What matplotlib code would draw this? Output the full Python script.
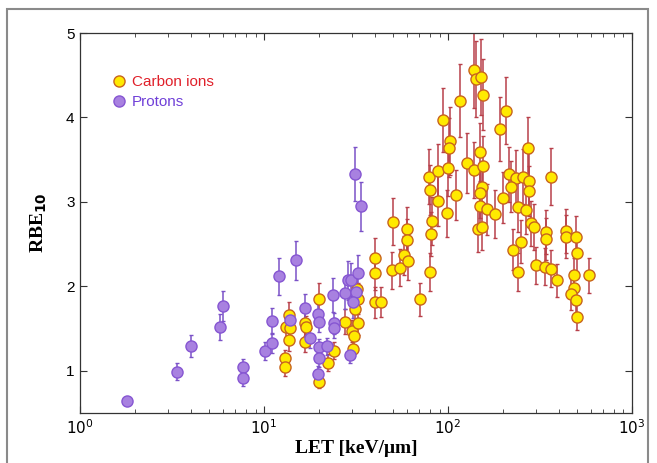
import matplotlib.pyplot as plt
import numpy as np
from matplotlib.lines import Line2D
from matplotlib.patches import Rectangle

# ---------- Data ----------
proton_let = [1.81, 3.37, 4.0, 5.8, 6.0, 7.65, 7.65, 10.1, 11.0, 11.0, 12.0, 15.0,
              13.9, 16.8, 17.7, 19.7, 20.0, 20.0, 20.0, 19.7, 22.0, 23.7, 23.9, 23.9,
              27.7, 28.5, 29.9, 32.6, 31.7, 30.6, 29.4, 31.1, 33.6]
proton_rbe = [0.64, 0.99, 1.29, 1.52, 1.77, 1.05, 0.91, 1.235, 1.33, 1.59, 2.12, 2.31,
              1.60, 1.74, 1.39, 1.675, 1.575, 1.28, 1.15, 0.96, 1.29, 1.90, 1.56, 1.51,
              1.92, 2.07, 2.08, 2.16, 1.93, 1.81, 1.19, 3.33, 2.95]
proton_err = [0.05, 0.10, 0.13, 0.15, 0.18, 0.09, 0.09, 0.11, 0.12, 0.15, 0.22, 0.23,
              0.12, 0.17, 0.12, 0.12, 0.12, 0.10, 0.10, 0.10, 0.10, 0.20, 0.12, 0.12,
              0.19, 0.23, 0.20, 0.21, 0.20, 0.18, 0.10, 0.32, 0.29]

carbon_let = [13.0, 13.0, 13.6, 13.2, 13.9, 13.7, 16.7, 16.9, 16.8, 20.0, 20.0, 22.4,
              23.9, 27.4, 30.2, 30.7, 30.3, 31.1, 31.9, 32.3, 32.3, 40.2, 40.2, 40.2,
              43.2, 50.5, 49.9, 55.0, 57.9, 60.3, 60.2, 60.2, 70.3, 79.4, 80.4, 82.1,
              88.5, 80.1, 78.9, 88.5, 94.2, 102.8, 101.9, 100.4, 99.4, 110.1, 116.6, 127.3,
              138.3, 138.3, 142.3, 150.4, 155.4, 150.0, 154.8, 153.5, 148.5, 149.6, 145.0, 153.5,
              163.3, 180.4, 199.9, 192.1, 207.5, 216.0, 235.1, 256.6, 273.2, 277.3, 277.3, 221.5,
              240.4, 266.4, 282.8, 292.5, 249.7, 227.0, 239.4, 302.6, 337.8, 362.4, 393.7, 363.0,
              340.6, 340.6, 440.6, 436.0, 495.4, 503.5, 583.0, 484.9, 484.0, 468.0, 497.3, 503.5]
carbon_rbe = [1.15, 1.04, 1.66, 1.52, 1.51, 1.36, 1.565, 1.52, 1.34, 1.85, 0.87, 1.095,
              1.24, 1.58, 1.47, 1.41, 1.26, 1.73, 1.97, 1.855, 1.56, 2.34, 2.16, 1.81,
              1.815, 2.765, 2.19, 2.22, 2.37, 2.30, 2.675, 2.55, 1.845, 2.17, 2.615, 2.775,
              3.01, 3.14, 3.30, 3.36, 3.97, 3.72, 3.64, 3.40, 2.865, 3.08, 4.20, 3.46,
              3.38, 4.56, 4.46, 4.48, 4.27, 3.59, 3.43, 3.18, 3.105, 2.95, 2.68, 2.70,
              2.91, 2.855, 3.05, 3.86, 4.08, 3.325, 3.28, 3.30, 3.64, 3.25, 3.13, 3.18,
              2.94, 2.905, 2.745, 2.70, 2.53, 2.435, 2.17, 2.25, 2.23, 2.21, 2.07, 3.30,
              2.645, 2.565, 2.65, 2.59, 2.58, 2.40, 2.13, 2.13, 1.985, 1.905, 1.835, 1.64]
carbon_err = [0.10, 0.10, 0.15, 0.13, 0.13, 0.12, 0.15, 0.13, 0.12, 0.19, 0.07, 0.10,
              0.10, 0.15, 0.13, 0.12, 0.10, 0.15, 0.20, 0.18, 0.14, 0.23, 0.20, 0.18,
              0.18, 0.28, 0.22, 0.22, 0.23, 0.22, 0.27, 0.25, 0.20, 0.22, 0.26, 0.28,
              0.30, 0.30, 0.33, 0.33, 0.38, 0.40, 0.35, 0.33, 0.28, 0.30, 0.43, 0.35,
              0.33, 0.45, 0.45, 0.45, 0.42, 0.35, 0.35, 0.30, 0.30, 0.30, 0.27, 0.27,
              0.30, 0.28, 0.30, 0.38, 0.40, 0.33, 0.33, 0.33, 0.36, 0.33, 0.30, 0.30,
              0.30, 0.29, 0.27, 0.27, 0.25, 0.24, 0.22, 0.22, 0.22, 0.22, 0.20, 0.34,
              0.26, 0.25, 0.26, 0.25, 0.25, 0.24, 0.21, 0.21, 0.20, 0.19, 0.18, 0.16]

# ---------- Figure ----------
fig = plt.figure(figsize=(6.57, 4.63), dpi=100)
ax = fig.add_axes([0.1218, 0.108, 0.840, 0.8207])

# outer grey frame of the picture
fig.patches.append(Rectangle((7 / 657, -0.05), 641 / 657, 1.05 - 9 / 463,
                             transform=fig.transFigure, fill=False,
                             edgecolor='#8a8a8a', linewidth=1.5))

ax.errorbar(carbon_let, carbon_rbe, yerr=carbon_err, fmt='none',
            ecolor='#b8404a', elinewidth=1.1, capsize=1.5, capthick=1.0, zorder=2)
ax.errorbar(proton_let, proton_rbe, yerr=proton_err, fmt='none',
            ecolor='#7b52c8', elinewidth=1.1, capsize=1.5, capthick=1.0, zorder=2)
ax.plot(carbon_let, carbon_rbe, 'o', ms=8, mfc='#ffea00', mec='#c8641e',
        mew=1.0, ls='none', zorder=3)
ax.plot(proton_let, proton_rbe, 'o', ms=8, mfc='#a881e0', mec='#8656d2',
        mew=1.0, ls='none', zorder=4)

# ---------- Axes ----------
ax.set_xscale('log')
ax.set_xlim(1, 1000)
ax.set_ylim(0.5, 5)
ax.set_yticks([1, 2, 3, 4, 5])
ax.set_xticks([1, 10, 100, 1000])
ax.set_xticklabels([r'$10^0$', r'$10^1$', r'$10^2$', r'$10^3$'])
ax.tick_params(which='both', direction='in', top=True, right=True,
               labelsize=11, color='#333333')
ax.tick_params(which='major', length=5, pad=4)
ax.tick_params(which='minor', length=3)
for lab in ax.get_xticklabels() + ax.get_yticklabels():
    lab.set_fontfamily('Liberation Sans')
for s in ax.spines.values():
    s.set_color('#333333')
    s.set_linewidth(0.9)

ax.set_xlabel('LET [keV/μm]', fontfamily='Liberation Serif', fontweight='bold',
              fontsize=14, labelpad=2)
ax.set_ylabel(r'RBE$_{\mathbf{10}}$', fontfamily='Liberation Serif', fontweight='bold',
              fontsize=14, labelpad=12)

# ---------- Legend ----------
handles = [Line2D([], [], marker='o', ls='none', ms=8, mfc='#ffea00', mec='#c8641e'),
           Line2D([], [], marker='o', ls='none', ms=8, mfc='#a881e0', mec='#8656d2')]
leg = ax.legend(handles, ['Carbon ions', 'Protons'], loc='upper left',
                bbox_to_anchor=(0.03, 0.925), frameon=False, handletextpad=0.2,
                handlelength=1.2, labelspacing=0.4,
                prop={'family': 'Liberation Sans', 'size': 11})
leg.get_texts()[0].set_color('#e0202a')
leg.get_texts()[1].set_color('#7040d8')

plt.savefig('out.png', dpi=100)
